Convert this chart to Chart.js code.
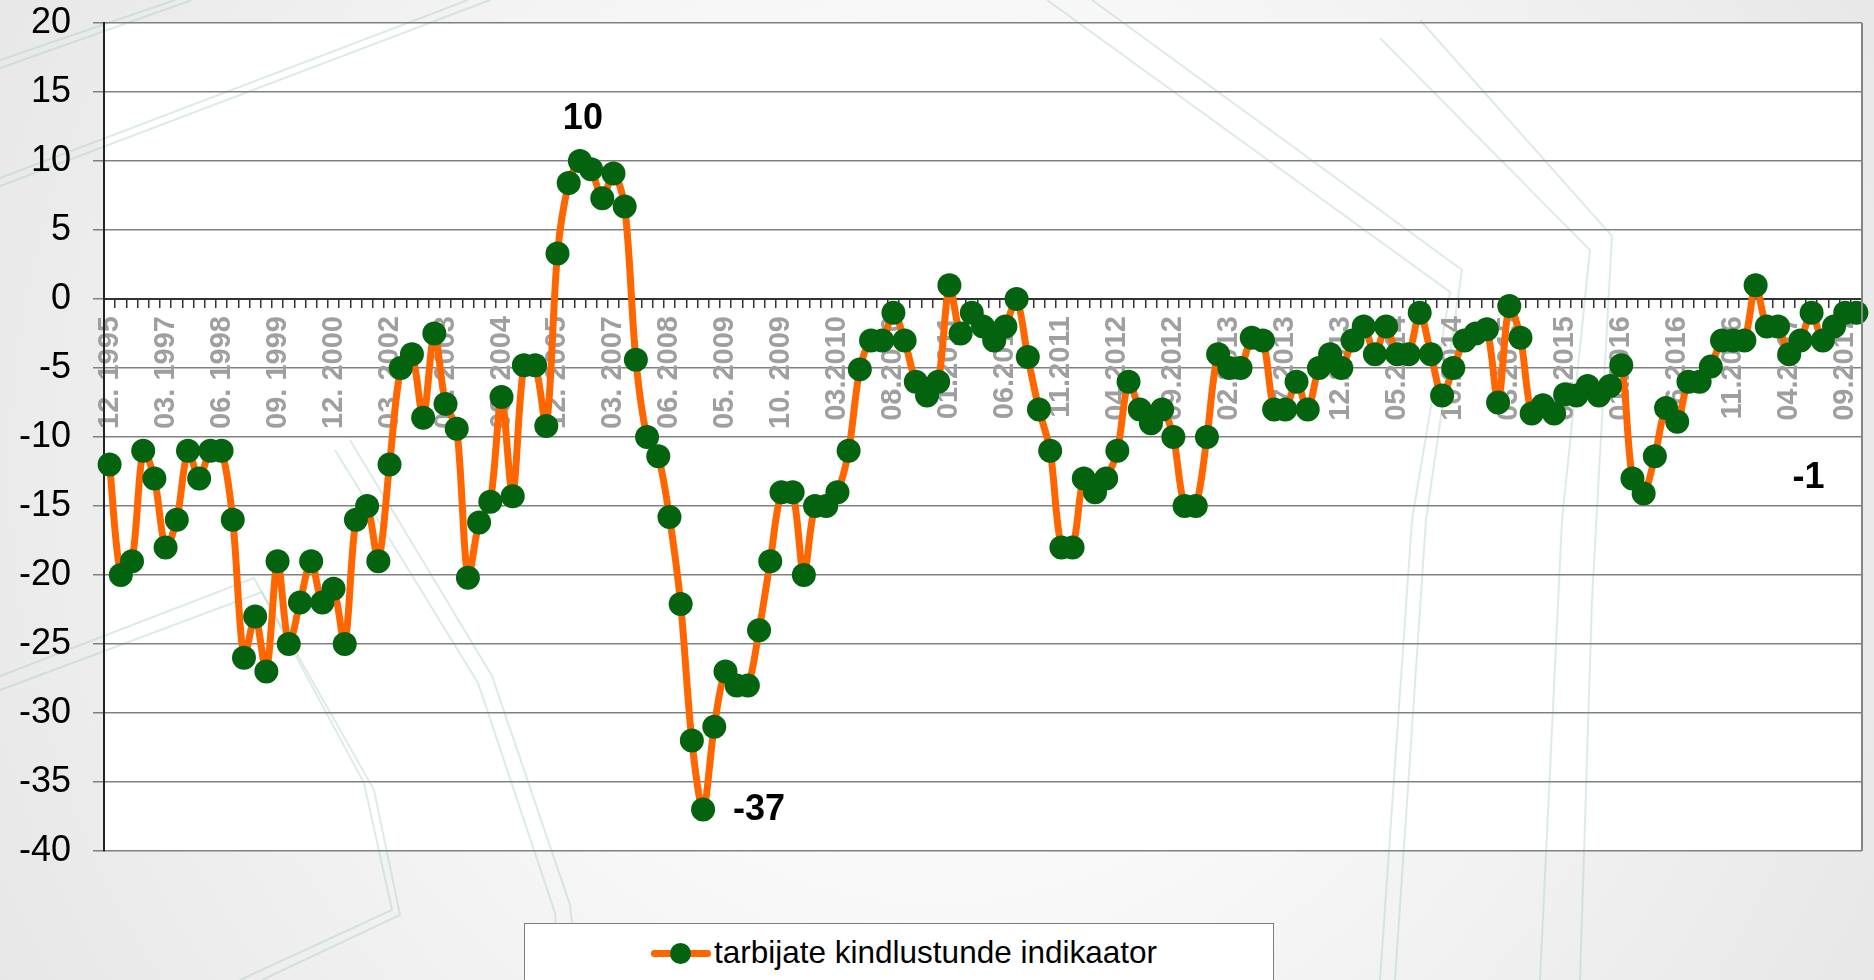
<!DOCTYPE html>
<html>
<head>
<meta charset="utf-8">
<script src="https://cdn.jsdelivr.net/npm/chart.js@4.4.1/dist/chart.umd.min.js"></script>
<style>
  html, body { margin: 0; padding: 0; overflow: hidden; background: #f4f4f4; }
  #wrap { position: relative; width: 1874px; height: 980px; }
  #legend {
    position: absolute; left: 524px; top: 923px; width: 750px; height: 80px;
    background: #fff; border: 1px solid #7f7f7f; box-sizing: border-box;
    font-family: "Liberation Sans", Arial, sans-serif; font-size: 31.5px; color: #000;
  }
  #legend .sym { position: absolute; left: 126px; top: 26px; width: 60px; height: 7px; background: #ff6600; border-radius: 3px; }
  #legend .dot { position: absolute; left: 145px; top: 19px; width: 21px; height: 21px; background: #03630f; border-radius: 50%; }
  #legend .txt { position: absolute; left: 189px; top: 10px; white-space: nowrap; }
</style>
</head>
<body>
<div id="wrap">
  <canvas id="chart" width="1874" height="980"></canvas>
  <div id="legend"><span class="sym"></span><span class="dot"></span><span class="txt">tarbijate kindlustunde indikaator</span></div>
</div>
<script>
// kuud / kvartalid
const labels = [
  '12. 1995',
  '03. 1996','06. 1996','09. 1996','12. 1996',
  '03. 1997','06. 1997','09. 1997','12. 1997',
  '03. 1998','06. 1998','09. 1998','12. 1998',
  '03. 1999','06. 1999','09. 1999','12. 1999',
  '03. 2000','06. 2000','09. 2000','12. 2000',
  '03. 2001','06. 2001','09. 2001','12. 2001',
  '03. 2002','06. 2002','09. 2002','12. 2002',
  '03. 2003','06. 2003','09. 2003','12. 2003',
  '03. 2004','06. 2004','09. 2004','12. 2004',
  '03. 2005','06. 2005','09. 2005','12. 2005',
  '03. 2006','06. 2006','09. 2006','12. 2006',
  '03. 2007','06. 2007','09. 2007','12. 2007',
  '03. 2008','06. 2008','09. 2008','12. 2008',
  '03. 2009','04. 2009','05. 2009','06. 2009','07. 2009','08. 2009','09. 2009','10. 2009','11. 2009','12. 2009',
  '01.2010','02.2010','03.2010','04.2010','05.2010','06.2010','07.2010','08.2010','09.2010','10.2010','11.2010','12.2010',
  '01.2011','02.2011','03.2011','04.2011','05.2011','06.2011','07.2011','08.2011','09.2011','10.2011','11.2011','12.2011',
  '01.2012','02.2012','03.2012','04.2012','05.2012','06.2012','07.2012','08.2012','09.2012','10.2012','11.2012','12.2012',
  '01.2013','02.2013','03.2013','04.2013','05.2013','06.2013','07.2013','08.2013','09.2013','10.2013','11.2013','12.2013',
  '01.2014','02.2014','03.2014','04.2014','05.2014','06.2014','07.2014','08.2014','09.2014','10.2014','11.2014','12.2014',
  '01.2015','02.2015','03.2015','04.2015','05.2015','06.2015','07.2015','08.2015','09.2015','10.2015','11.2015','12.2015',
  '01.2016','02.2016','03.2016','04.2016','05.2016','06.2016','07.2016','08.2016','09.2016','10.2016','11.2016','12.2016',
  '01.2017','02.2017','03.2017','04.2017','05.2017','06.2017','07.2017','08.2017','09.2017','10.2017'
];

const indicator = [
  -12, -20, -19, -11, -13, -18, -16, -11, -13, -11,
  -11, -16, -26, -23, -27, -19, -25, -22, -19, -22,
  -21, -25, -16, -15, -19, -12, -5, -4, -8.6, -2.5,
  -7.6, -9.4, -20.2, -16.2, -14.7, -7.1, -14.3, -4.8, -4.8, -9.2,
  3.3, 8.4, 10, 9.4, 7.3, 9.1, 6.7, -4.4, -10, -11.4,
  -15.8, -22.1, -32, -37, -31, -27, -28, -28, -24, -19,
  -14, -14, -20, -15, -15, -14, -11, -5.1, -3, -3,
  -1, -3, -6, -7, -6, 1, -2.5, -1, -2, -3,
  -2, 0, -4.2, -8, -11, -18, -18, -13, -14, -13,
  -11, -6, -8, -9, -8, -10, -15, -15, -10, -4,
  -5, -5, -2.8, -3, -8, -8, -6, -8, -5, -4,
  -5, -3, -2, -4, -2, -4, -4, -1, -4, -7,
  -5, -3, -2.5, -2.2, -7.5, -0.5, -2.8, -8.3, -7.7, -8.3,
  -6.9, -7, -6.3, -7, -6.3, -4.8, -13, -14.1, -11.4, -7.9,
  -8.9, -6, -6, -4.9, -3, -3, -3, 1, -2, -2,
  -4, -3, -1, -3, -2, -1, -1
];

// max, min ja viimane väärtus
const notes = [
  { index: 42, dx: 3, dy: -42, align: 'center' },
  { index: 53, dx: 30, dy: 0, align: 'left' },
  { index: 156, dx: -48, dy: 165, align: 'center' }
];

const fontFamily = '"Liberation Sans", Arial, sans-serif';

// slaidi taustajooned (kujundus)
const decoLines = [
  [[0, 60], [175, 0]],
  [[0, 68], [192, 0]],
  [[0, 178], [468, 0]],
  [[0, 186], [490, 0]],
  [[1047, 0], [1450, 292], [1412, 520], [1380, 980]],
  [[1092, 0], [1462, 270], [1426, 520], [1395, 980]],
  [[1380, 38], [1590, 250], [1562, 520], [1540, 980]],
  [[1420, 20], [1612, 236], [1592, 600], [1580, 980]],
  [[0, 676], [254, 578], [364, 783], [392, 910], [240, 980]],
  [[0, 690], [262, 592], [374, 790], [400, 915], [262, 980]],
  [[335, 450], [478, 683], [555, 913], [560, 980]],
  [[350, 440], [492, 676], [570, 905], [578, 980]]
];

const background = {
  id: 'background',
  beforeDraw(chart) {
    const ctx = chart.ctx;
    const a = chart.chartArea;
    ctx.save();
    const g = ctx.createRadialGradient(937, 470, 200, 937, 470, 1100);
    g.addColorStop(0, '#ffffff');
    g.addColorStop(1, '#e6e6e6');
    ctx.fillStyle = g;
    ctx.fillRect(0, 0, chart.width, chart.height);
    ctx.fillStyle = '#ffffff';
    ctx.fillRect(a.left, a.top, a.right - a.left, a.bottom - a.top);
    ctx.strokeStyle = 'rgba(170, 205, 190, 0.4)';
    ctx.lineWidth = 2;
    decoLines.forEach(pts => {
      ctx.beginPath();
      ctx.moveTo(pts[0][0], pts[0][1]);
      pts.slice(1).forEach(p => ctx.lineTo(p[0], p[1]));
      ctx.stroke();
    });
    ctx.restore();
  },
  afterDraw(chart) {
    const ctx = chart.ctx;
    const a = chart.chartArea;
    ctx.save();
    ctx.strokeStyle = '#858585';
    ctx.lineWidth = 2;
    ctx.beginPath();
    ctx.moveTo(a.right, a.top);
    ctx.lineTo(a.right, a.bottom);
    ctx.stroke();
    ctx.restore();
  }
};

const annotate = {
  id: 'annotate',
  afterDatasetsDraw(chart) {
    const ctx = chart.ctx;
    const meta = chart.getDatasetMeta(0);
    ctx.save();
    ctx.font = 'bold 36px ' + fontFamily;
    ctx.fillStyle = '#000';
    ctx.textBaseline = 'middle';
    notes.forEach(n => {
      const p = meta.data[n.index];
      ctx.textAlign = n.align;
      ctx.fillText(String(indicator[n.index]), p.x + n.dx, p.y + n.dy);
    });
    ctx.restore();
  }
};

const ctx = document.getElementById('chart').getContext('2d');
const myLineChart = new Chart(ctx, {
  type: 'line',
  data: {
    labels: labels,
    datasets: [{
      label: 'tarbijate kindlustunde indikaator',
      data: indicator,
      borderColor: '#ff6600',
      backgroundColor: '#03630f',
      borderWidth: 7,
      tension: 0.3,
      pointRadius: 12,
      pointBorderWidth: 0,
      pointBackgroundColor: '#03630f'
    }]
  },
  options: {
    responsive: false,
    animation: false,
    layout: { padding: { top: 23, right: 10, bottom: 129, left: 0 } },
    plugins: {
      legend: { display: false },
      tooltip: { enabled: false }
    },
    scales: {
      x: {
        type: 'category',
        position: { y: 0 },
        offset: true,
        z: 1,
        afterFit: function(scale) { scale.paddingLeft = 0; scale.paddingRight = 0; },
        grid: { offset: true, drawOnChartArea: false, tickLength: 8, color: '#333', lineWidth: 1.5 },
        border: { color: '#333', width: 2 },
        ticks: {
          autoSkip: false,
          minRotation: 90,
          maxRotation: 90,
          padding: 9,
          color: '#9f9f9f',
          font: { family: fontFamily, size: 29, weight: 'bold' },
          callback: function(value, i) { return i % 5 === 0 ? labels[i] : ''; }
        }
      },
      y: {
        min: -40,
        max: 20,
        afterFit: function(scale) { scale.width = 104; scale.paddingTop = 0; scale.paddingBottom = 0; },
        grid: { color: '#808080', lineWidth: 1.5, tickLength: 11 },
        border: { color: '#222', width: 2 },
        ticks: {
          stepSize: 5,
          padding: 22,
          color: '#000',
          font: { family: fontFamily, size: 36 }
        }
      }
    }
  },
  plugins: [background, annotate]
});
</script>
</body>
</html>
